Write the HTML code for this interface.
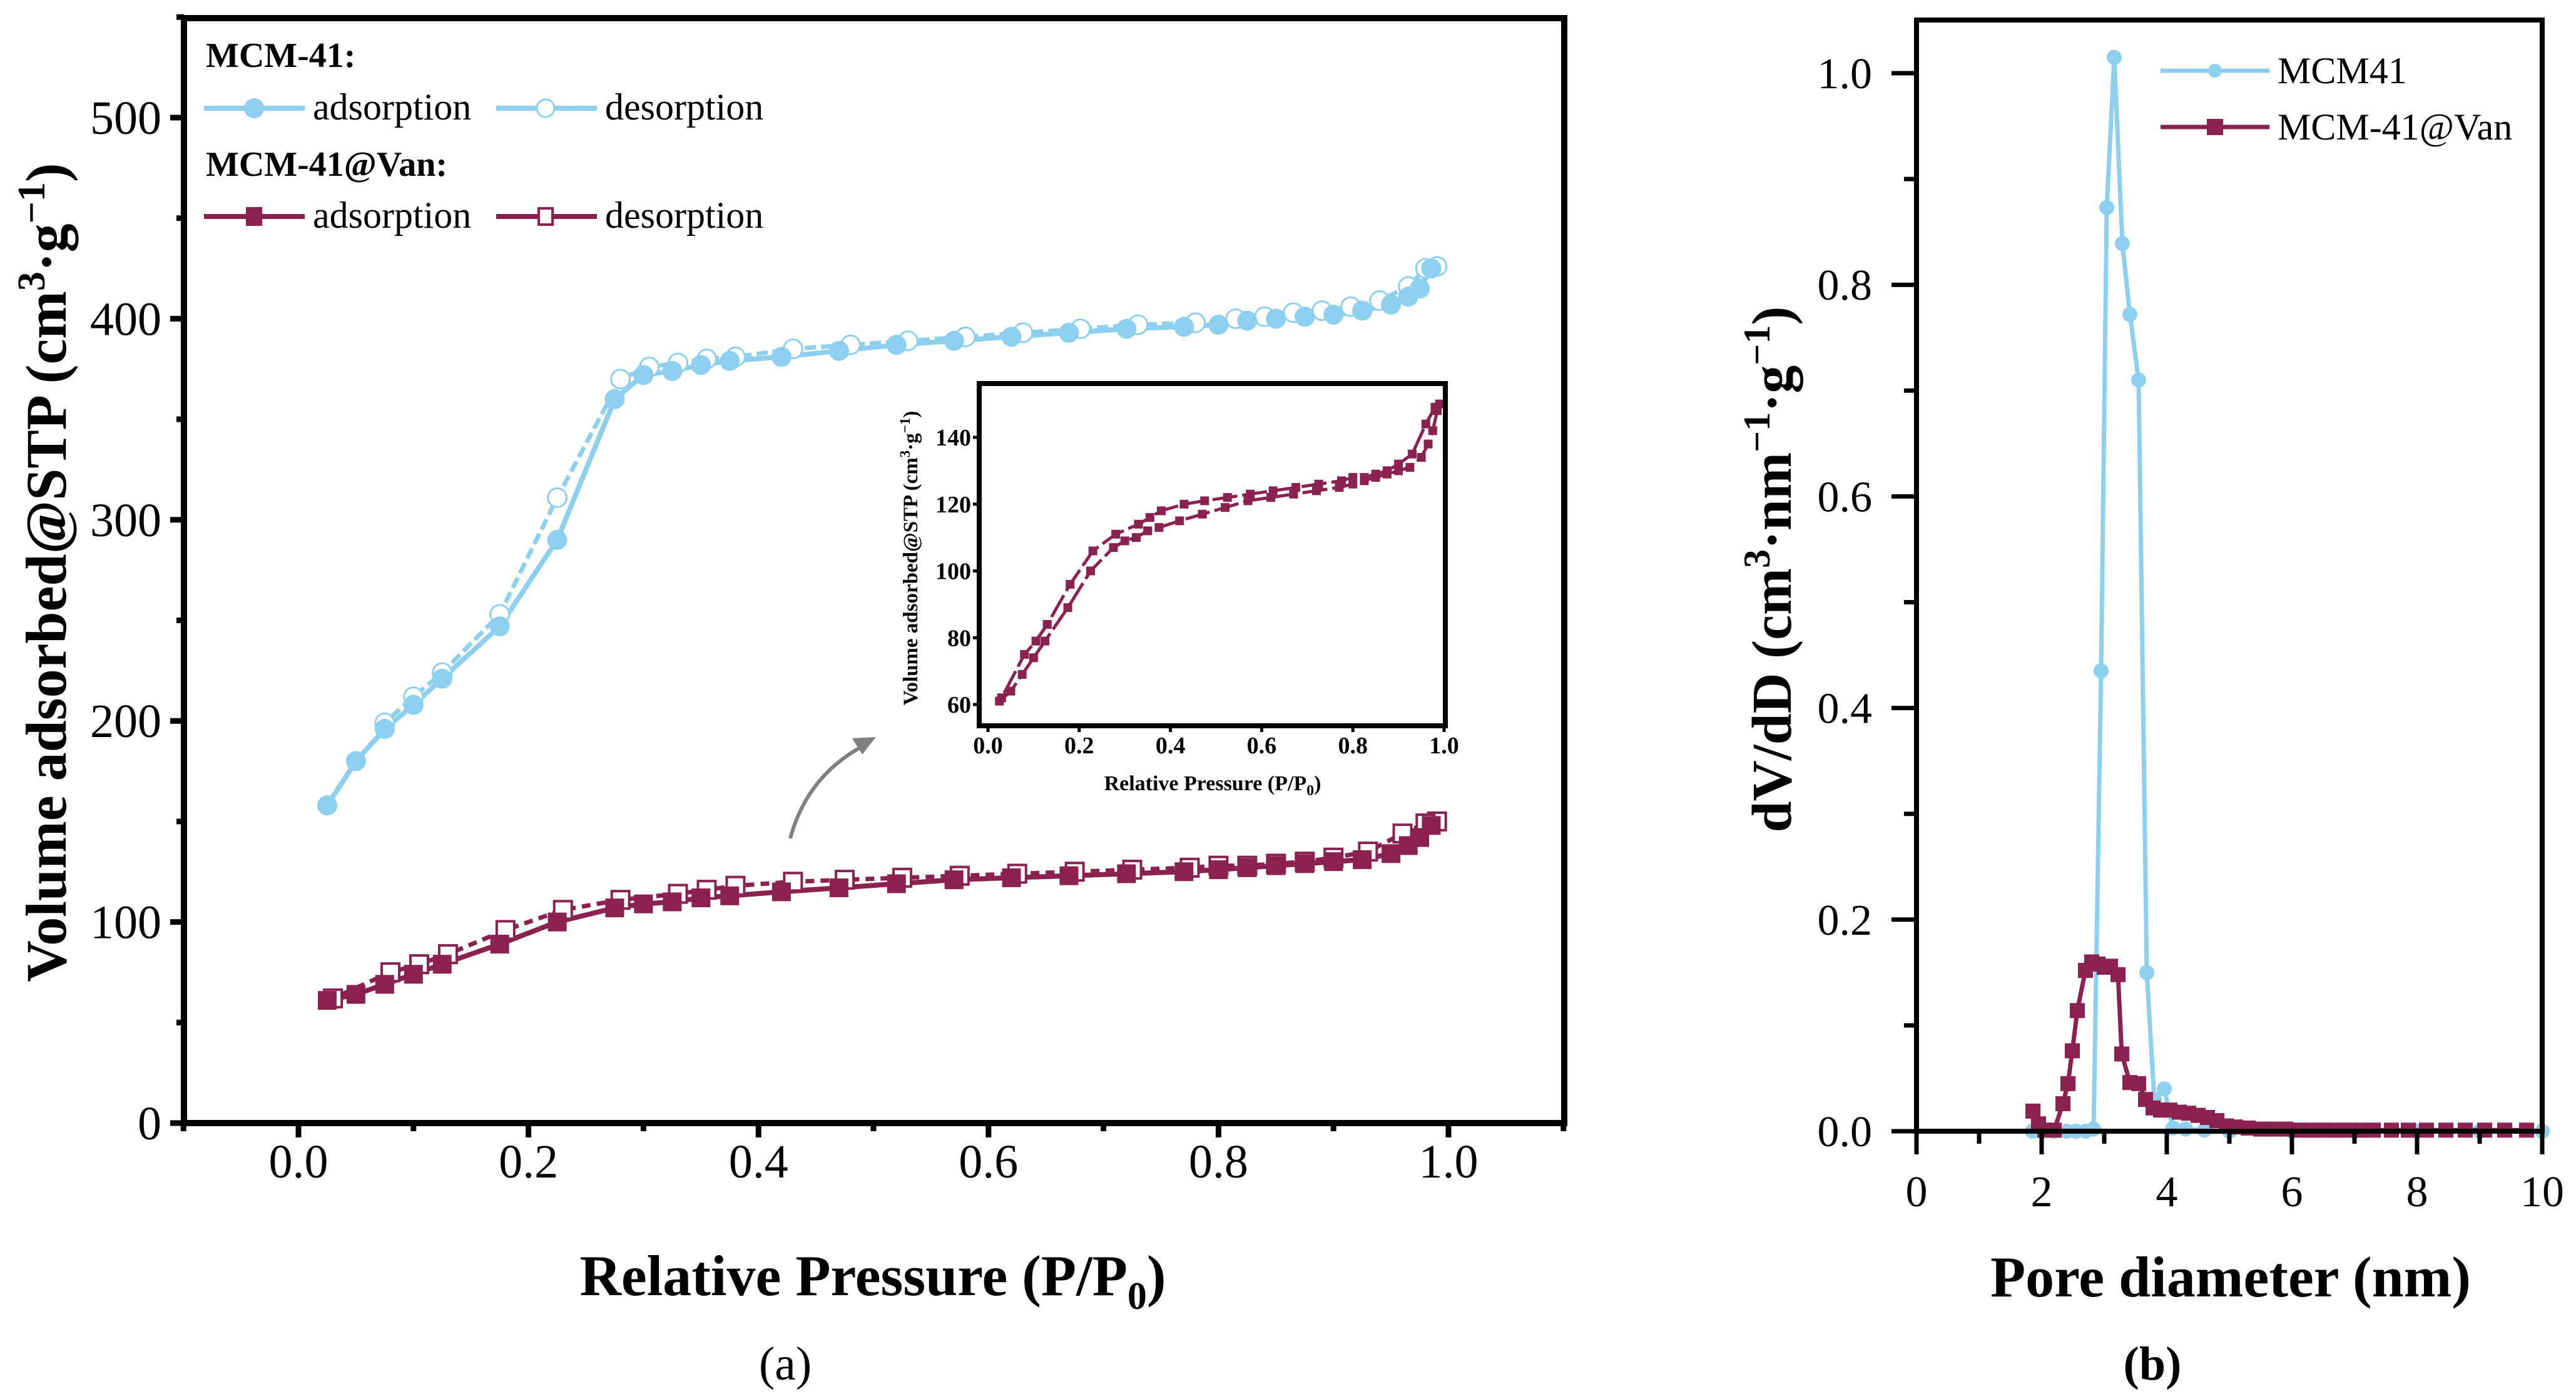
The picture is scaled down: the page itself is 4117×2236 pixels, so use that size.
<!DOCTYPE html>
<html><head><meta charset="utf-8"><style>
html,body{margin:0;padding:0;background:#fff;}
svg{display:block;font-family:"Liberation Serif",serif;}
</style></head><body>
<svg id="fig" width="4117" height="2236" viewBox="0 0 4117 2236" xmlns="http://www.w3.org/2000/svg">
<rect width="4117" height="2236" fill="#fff"/>
<g id="pa"></g>
<g id="pi"></g>
<g id="pb"></g>
</svg>
<script>
// ---- Panel (a) data ----
const mcmAdsP=[0.025,0.05,0.075,0.1,0.125,0.175,0.225,0.275,0.3,0.325,0.35,0.375,0.42,0.47,0.52,0.57,0.62,0.67,0.72,0.77,0.8,0.825,0.85,0.875,0.9,0.925,0.95,0.965,0.975,0.985];
const mcmAdsV=[158,180,196,208,221,247,290,360,372,374,377,379,381,384,387,389,391,393,395,396,397,399,400,401,402,404,407,411,415,425];
const mcmDesP=[0.99,0.98,0.965,0.94,0.915,0.89,0.865,0.84,0.815,0.78,0.73,0.68,0.63,0.58,0.53,0.48,0.43,0.38,0.355,0.33,0.305,0.28,0.225,0.175,0.125,0.1,0.075];
const mcmDesV=[426,425,416,409,406,404,403,401,400,398,397,395,393,391,389,387,385,381,380,378,376,370,311,253,224,212,199];
const vanAdsP=[0.025,0.05,0.075,0.1,0.125,0.175,0.225,0.275,0.3,0.325,0.35,0.375,0.42,0.47,0.52,0.57,0.62,0.67,0.72,0.77,0.8,0.825,0.85,0.875,0.9,0.925,0.95,0.965,0.975,0.985];
const vanAdsV=[61,64,69,74,79,89,100,107,109,110,112,113,115,117,119,121,122,123,124,125,126,127,128,129,130,131,134,138,142,148];
const vanDesP=[0.99,0.98,0.96,0.93,0.9,0.875,0.85,0.825,0.8,0.775,0.725,0.675,0.625,0.575,0.525,0.475,0.43,0.38,0.355,0.33,0.28,0.23,0.18,0.13,0.105,0.08,0.03];
const vanDesV=[150,149,144,135,132,130,129,128,128,127,126,125,124,123,122,121,120,118,116,114,111,106,96,84,79,75,62];
const aXTicks=[0,0.2,0.4,0.6,0.8,1.0];
const aXLabels=["0.0","0.2","0.4","0.6","0.8","1.0"];
const aYTicks=[0,100,200,300,400,500];
const inXTicks=[0,0.2,0.4,0.6,0.8,1.0];
const inXLabels=["0.0","0.2","0.4","0.6","0.8","1.0"];
const inYTicks=[60,80,100,120,140];
// ---- Panel (b) data ----
const bMcmD=[1.85,2.0,2.2,2.4,2.55,2.7,2.83,2.95,3.04,3.16,3.29,3.41,3.55,3.68,3.8,3.96,4.1,4.3,4.6,5.0,6.0,7.0,8.0,9.0,10.0];
const bMcmV=[0,0,0,0,0,0,0.002,0.435,0.873,1.015,0.839,0.772,0.71,0.15,0.03,0.04,0.003,0.002,0.001,0,0,0,0,0,0];
const bVanD=[1.86,1.95,2.05,2.2,2.34,2.42,2.49,2.57,2.7,2.8,2.9,3.0,3.1,3.22,3.28,3.41,3.55,3.66,3.78,3.9,4.05,4.2,4.35,4.5,4.65,4.8,4.95,5.1,5.3,5.5,5.7,5.9,6.1,6.3,6.5,6.7,6.9,7.1,7.3,7.59,7.86,8.15,8.46,8.77,9.08,9.4,9.75];
const bVanV=[0.019,0.007,0.001,0.001,0.026,0.045,0.076,0.114,0.152,0.16,0.158,0.155,0.156,0.148,0.073,0.046,0.045,0.03,0.022,0.02,0.02,0.018,0.017,0.015,0.013,0.01,0.005,0.004,0.003,0.002,0.002,0.002,0.001,0.001,0.001,0.001,0.001,0.001,0.001,0.001,0.001,0.001,0.001,0.001,0.001,0.001,0.001];
const bXTicks=[0,2,4,6,8,10];
const bYTicks=[0,0.2,0.4,0.6,0.8,1.0];
const bYLabels=["0.0","0.2","0.4","0.6","0.8","1.0"];

const NS="http://www.w3.org/2000/svg";
const CY="#8ccfee", MR="#8a2151";
function mk(parent,tag,attrs,text){const e=document.createElementNS(NS,tag);for(const k in attrs)e.setAttribute(k,attrs[k]);if(text!==undefined)e.textContent=text;parent.appendChild(e);return e;}
function lin(d0,d1,r0,r1){return v=>r0+(v-d0)*(r1-r0)/(d1-d0);}

// ===== Panel a =====
const pa=document.getElementById('pa');
const ax=lin(0,1,477,2315), ay=lin(0,500,1795,188);
function poly(g,xs,ys,X,Y,color,w,dash,name){
  const pts=xs.map((v,i)=>X(v).toFixed(1)+','+Y(ys[i]).toFixed(1)).join(' ');
  const a={points:pts,fill:'none',stroke:color,'stroke-width':w,'stroke-linejoin':'round'};
  if(dash)a['stroke-dasharray']=dash;
  const e=mk(g,'polyline',a);
  
  
}
function circles(g,xs,ys,X,Y,r,color,open,name){
  xs.forEach((v,i)=>{const e=mk(g,'circle',{cx:X(v),cy:Y(ys[i]),r:r,fill:open?'#fff':color,stroke:color,'stroke-width':open?3:0});
    
    });
}
function squares(g,xs,ys,X,Y,s,color,open,name){
  xs.forEach((v,i)=>{const e=mk(g,'rect',{x:X(v)-s/2,y:Y(ys[i])-s/2,width:s,height:s,fill:open?'#fff':color,stroke:color,'stroke-width':open?4:0});
    
    });
}
poly(pa,mcmAdsP,mcmAdsV,ax,ay,CY,8,null,'mcm41-adsorption-line');
poly(pa,mcmDesP,mcmDesV,ax,ay,CY,7,'18 8','mcm41-desorption-line');
poly(pa,vanAdsP,vanAdsV,ax,ay,MR,8,null,'van-adsorption-line');
poly(pa,vanDesP,vanDesV,ax,ay,MR,7,'14 10','van-desorption-line');
circles(pa,mcmDesP,mcmDesV,ax,ay,15,CY,true,'mcm41-desorption-point');
circles(pa,mcmAdsP,mcmAdsV,ax,ay,16,CY,false,'mcm41-adsorption-point');
squares(pa,vanDesP,vanDesV,ax,ay,28,MR,true,'van-desorption-point');
squares(pa,vanAdsP,vanAdsV,ax,ay,30,MR,false,'van-adsorption-point');
// frame
let f=mk(pa,'rect',{x:294,y:29,width:2206,height:1766,fill:'none',stroke:'#000','stroke-width':10});

for(let v=-0.1;v<=1.1001;v+=0.1){const x=ax(v);const major=aXTicks.some(t=>Math.abs(t-v)<1e-6);mk(pa,'line',{x1:x,y1:1795,x2:x,y2:major?1818:1808,stroke:'#000','stroke-width':9});}
aXTicks.forEach((t,i)=>{const e=mk(pa,'text',{x:ax(t),y:1882,'font-size':76,'text-anchor':'middle'},aXLabels[i]);
  });
for(let v=0;v<=550;v+=50){const y=ay(v);const major=v%100===0;mk(pa,'line',{x1:294,y1:y,x2:major?272:282,y2:y,stroke:'#000','stroke-width':9});}
aYTicks.forEach(t=>{const e=mk(pa,'text',{x:258,y:ay(t)+26,'font-size':76,'text-anchor':'end'},String(t));
  });
let t=mk(pa,'text',{x:1395,y:2070,'font-size':92,'font-weight':'bold','text-anchor':'middle'});

t.innerHTML='Relative Pressure (P/P<tspan font-size="62" dy="22">0</tspan><tspan dy="-22">)</tspan>';
t=mk(pa,'text',{transform:'translate(105,915) rotate(-90)','font-size':92,'font-weight':'bold','text-anchor':'middle'});

t.innerHTML='Volume adsorbed@STP (cm<tspan font-size="62" dy="-34">3</tspan><tspan dy="34">·g</tspan><tspan font-size="62" dy="-34">−1</tspan><tspan dy="34">)</tspan>';
t=mk(pa,'text',{x:1255,y:2205,'font-size':76,'text-anchor':'middle'},'(a)');

// legend a
const lg=mk(pa,'g',{});
mk(lg,'text',{x:329,y:107,'font-size':56,'font-weight':'bold'},'MCM-41:');
mk(lg,'text',{x:329,y:281,'font-size':56,'font-weight':'bold'},'MCM-41@Van:');
[[173,CY],[346,MR]].forEach(([y,c],k)=>{
  mk(lg,'line',{x1:326,y1:y,x2:487,y2:y,stroke:c,'stroke-width':8});
  mk(lg,'line',{x1:793,y1:y,x2:954,y2:y,stroke:c,'stroke-width':8});
  if(k===0){mk(lg,'circle',{cx:406,cy:y,r:16,fill:c});mk(lg,'circle',{cx:872,cy:y,r:14,fill:'#fff',stroke:c,'stroke-width':3});}
  else{mk(lg,'rect',{x:393,y:y-15,width:26,height:30,fill:c});mk(lg,'rect',{x:861,y:y-13,width:22,height:26,fill:'#fff',stroke:c,'stroke-width':4});}
  mk(lg,'text',{x:500,y:y+18,'font-size':60},'adsorption');
  mk(lg,'text',{x:967,y:y+18,'font-size':60},'desorption');
});
// arrow
const ar=mk(pa,'path',{d:'M1263,1340 Q1290,1240 1380,1192',fill:'none',stroke:'#808080','stroke-width':6});

mk(pa,'polygon',{points:'1400,1178 1362,1180 1378,1206',fill:'#808080'});

// ===== Inset =====
const pi=document.getElementById('pi');
const ix=lin(0,1,1579,2308), iy=lin(60,140,1126,699);
mk(pi,'rect',{x:1565,y:613,width:745,height:547,fill:'#fff'});
poly(pi,vanAdsP,vanAdsV,ix,iy,MR,5,'40 8','inset-adsorption-line');
poly(pi,vanDesP,vanDesV,ix,iy,MR,5,'40 8','inset-desorption-line');
squares(pi,vanAdsP,vanAdsV,ix,iy,14,MR,false,'inset-adsorption-point');
squares(pi,vanDesP,vanDesV,ix,iy,14,MR,false,'inset-desorption-point');
f=mk(pi,'rect',{x:1565,y:613,width:745,height:547,fill:'none',stroke:'#000','stroke-width':8});

inXTicks.forEach((v,i)=>{mk(pi,'line',{x1:ix(v),y1:1160,x2:ix(v),y2:1170,stroke:'#000','stroke-width':5});
  const e=mk(pi,'text',{x:ix(v),y:1204,'font-size':38,'font-weight':'bold','text-anchor':'middle'},inXLabels[i]);
  });
inYTicks.forEach(v=>{mk(pi,'line',{x1:1565,y1:iy(v),x2:1555,y2:iy(v),stroke:'#000','stroke-width':5});
  const e=mk(pi,'text',{x:1552,y:iy(v)+13,'font-size':38,'font-weight':'bold','text-anchor':'end'},String(v));
  });
t=mk(pi,'text',{x:1938,y:1263,'font-size':34,'font-weight':'bold','text-anchor':'middle'});

t.innerHTML='Relative Pressure (P/P<tspan font-size="24" dy="8">0</tspan><tspan dy="-8">)</tspan>';
t=mk(pi,'text',{transform:'translate(1466,892) rotate(-90)','font-size':33,'font-weight':'bold','text-anchor':'middle'});

t.innerHTML='Volume adsorbed@STP (cm<tspan font-size="23" dy="-12">3</tspan><tspan dy="12">·g</tspan><tspan font-size="23" dy="-12">−1</tspan><tspan dy="12">)</tspan>';

// ===== Panel b =====
const pb=document.getElementById('pb');
const bx=lin(0,10,3063,4063), by=lin(0,1,1808,117);
poly(pb,bMcmD,bMcmV,bx,by,CY,7,null,'mcm41-psd-line');
circles(pb,bMcmD,bMcmV,bx,by,12,CY,false,'mcm41-psd-point');
poly(pb,bVanD,bVanV,bx,by,MR,7,null,'van-psd-line');
squares(pb,bVanD,bVanV,bx,by,24,MR,false,'van-psd-point');
f=mk(pb,'rect',{x:3063,y:32,width:1000,height:1776,fill:'none',stroke:'#000','stroke-width':8});

for(let v=0;v<=10;v++){const major=v%2===0;mk(pb,'line',{x1:bx(v),y1:1808,x2:bx(v),y2:major?1845:1828,stroke:'#000','stroke-width':7});}
bXTicks.forEach(v=>{const e=mk(pb,'text',{x:bx(v),y:1928,'font-size':70,'text-anchor':'middle'},String(v));
  });
for(let k=0;k<=10;k++){const v=k/10;const major=k%2===0;mk(pb,'line',{x1:3063,y1:by(v),x2:major?3023:3043,y2:by(v),stroke:'#000','stroke-width':7});}
bYTicks.forEach((v,i)=>{const e=mk(pb,'text',{x:2992,y:by(v)+24,'font-size':70,'text-anchor':'end'},bYLabels[i]);
  });
t=mk(pb,'text',{x:3565,y:2072,'font-size':92,'font-weight':'bold','text-anchor':'middle'},'Pore diameter (nm)');

t=mk(pb,'text',{transform:'translate(2862,910) rotate(-90)','font-size':90,'font-weight':'bold','text-anchor':'middle'});

t.innerHTML='dV/dD (cm<tspan font-size="60" dy="-34">3</tspan><tspan dy="34">·nm</tspan><tspan font-size="60" dy="-34">−1</tspan><tspan dy="34">·g</tspan><tspan font-size="60" dy="-34">−1</tspan><tspan dy="34">)</tspan>';
t=mk(pb,'text',{x:3440,y:2205,'font-size':76,'font-weight':'bold','text-anchor':'middle'},'(b)');

const lb=mk(pb,'g',{});
mk(lb,'line',{x1:3453,y1:113,x2:3627,y2:113,stroke:CY,'stroke-width':7});
mk(lb,'circle',{cx:3540,cy:113,r:11,fill:CY});
mk(lb,'text',{x:3640,y:133,'font-size':60},'MCM41');
mk(lb,'line',{x1:3453,y1:203,x2:3627,y2:203,stroke:MR,'stroke-width':7});
mk(lb,'rect',{x:3527,y:190,width:26,height:26,fill:MR});
mk(lb,'text',{x:3640,y:223,'font-size':60},'MCM-41@Van');
</script>
</body></html>
